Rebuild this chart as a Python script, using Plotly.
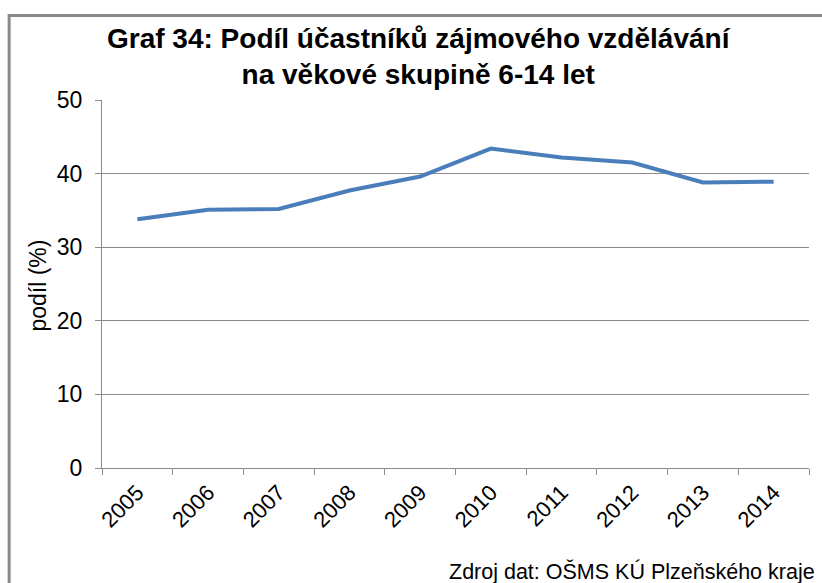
import plotly.graph_objects as go

# Share of participants in leisure-time education, age group 6-14 (%)
years = ["2005", "2006", "2007", "2008", "2009", "2010", "2011", "2012", "2013", "2014"]
share = [33.8, 35.1, 35.2, 37.7, 39.6, 43.4, 42.2, 41.5, 38.8, 38.9]
y_ticks = [0, 10, 20, 30, 40, 50]

FONT = "Liberation Sans, Arial, sans-serif"
GRAY = "#8a8a8a"

fig = go.Figure(
    go.Scatter(
        x=years,
        y=share,
        mode="lines",
        line=dict(color="#4a7ebb", width=4),
        hoverinfo="x+y",
    )
)

W, H = 822, 583
L, R, T, B = 101.5, 12.5, 100, 115
pw, ph = W - L - R, H - T - B


def px_x(v):
    return (v - L) / pw


def px_y(v):
    return (H - B - v) / ph


fig.update_layout(
    width=W,
    height=H,
    margin=dict(l=L, r=R, t=T, b=B),
    paper_bgcolor="white",
    plot_bgcolor="white",
    showlegend=False,
    font=dict(family=FONT, color="#000000"),
    xaxis=dict(
        type="category",
        range=[-0.5, len(years) - 0.5],
        tickson="boundaries",
        ticks="outside",
        ticklen=6,
        tickcolor=GRAY,
        tickwidth=1,
        showline=True,
        linecolor=GRAY,
        linewidth=1,
        showgrid=False,
        tickangle=-45,
        ticklabelstandoff=2,
        tickfont=dict(size=22, family=FONT, color="#000000"),
    ),
    yaxis=dict(
        range=[0, 50],
        tickvals=y_ticks,
        ticks="outside",
        ticklen=6,
        tickcolor=GRAY,
        tickwidth=1,
        showline=True,
        linecolor=GRAY,
        linewidth=1,
        showgrid=True,
        gridcolor=GRAY,
        gridwidth=1,
        zeroline=False,
        ticklabelstandoff=8,
        tickfont=dict(size=23, family=FONT, color="#000000"),
    ),
    shapes=[
        # outer chart frame (left and top edges)
        dict(
            type="path",
            xref="paper",
            yref="paper",
            path=f"M {px_x(8.5)} {px_y(600)} L {px_x(8.5)} {px_y(15.5)} L {px_x(830)} {px_y(15.5)}",
            line=dict(color=GRAY, width=3),
        )
    ],
    annotations=[
        dict(
            text="<b>Graf 34: Podíl účastníků zájmového vzdělávání<br>na věkové skupině 6-14 let</b>",
            xref="paper",
            yref="paper",
            x=px_x(419),
            y=px_y(57),
            xanchor="center",
            yanchor="middle",
            showarrow=False,
            font=dict(size=28, family=FONT, color="#000000"),
        ),
        dict(
            text="podíl (%)",
            xref="paper",
            yref="paper",
            x=px_x(37),
            y=px_y(286),
            xanchor="center",
            yanchor="middle",
            textangle=-90,
            showarrow=False,
            font=dict(size=23, family=FONT, color="#000000"),
        ),
        dict(
            text="Zdroj dat: OŠMS KÚ Plzeňského kraje",
            xref="paper",
            yref="paper",
            x=px_x(818),
            y=px_y(571),
            xanchor="right",
            yanchor="middle",
            showarrow=False,
            font=dict(size=21.5, family=FONT, color="#000000"),
        ),
    ],
)

fig.write_html("out.html")
